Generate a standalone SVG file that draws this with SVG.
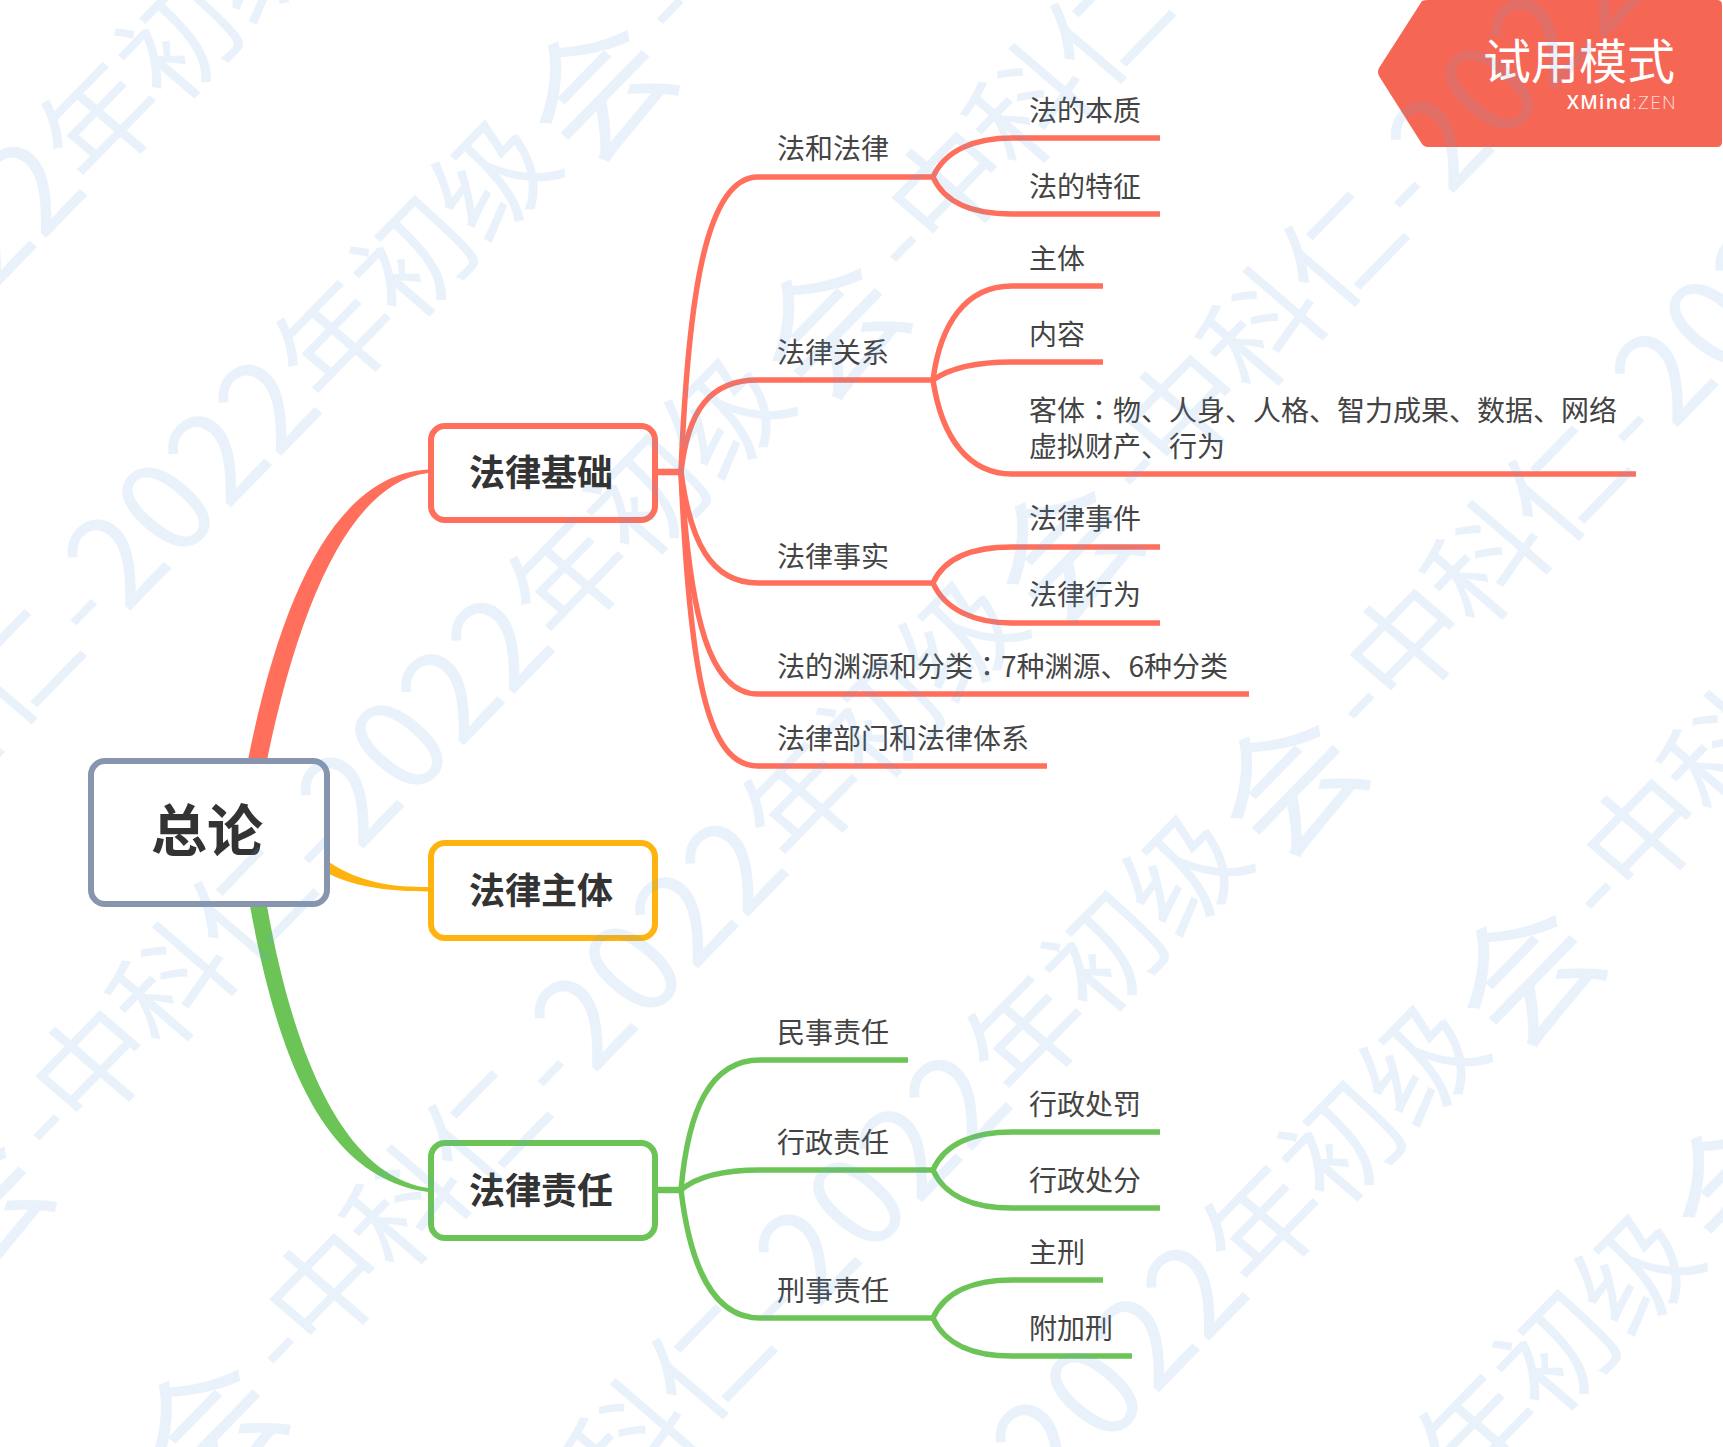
<svg xmlns="http://www.w3.org/2000/svg" width="1723" height="1447" viewBox="0 0 1723 1447">
<style>
text{font-family:"Noto Sans CJK SC","Noto Sans",sans-serif;fill:#3a3a3a}
.l{font-size:28px;fill:#444}
.t{font-size:36px;font-weight:700;text-anchor:middle;fill:#333}
.box{fill:#fff;stroke-width:6}
.line{fill:none;stroke-width:5.500}
.r{stroke:#ff6f5c}.y{stroke:#ffb30f}.g{stroke:#6cc457}
.stub{stroke-width:6.500}
#wm{font-size:115px;letter-spacing:-2px;fill:#5ea3e0}
#wm .d{font-size:128px;letter-spacing:1px}
#wm .a{letter-spacing:8px}
#wm .b{font-size:140px;letter-spacing:17px}
#wm .c{letter-spacing:6px}
#wm .h{letter-spacing:0}
.w{opacity:.13}
</style>
<defs>
<text id="wm"><tspan class="d">2022</tspan>年初<tspan class="a">级</tspan><tspan class="b" dy="22">会</tspan><tspan class="h" dy="-22">-</tspan>中科<tspan class="c">仁</tspan><tspan class="c">-</tspan><tspan class="d">2022</tspan>年初<tspan class="a">级</tspan><tspan class="b" dy="22">会</tspan><tspan class="h" dy="-22">-</tspan>中科<tspan class="c">仁</tspan><tspan class="c">-</tspan><tspan class="d">2022</tspan>年初<tspan class="a">级</tspan><tspan class="b" dy="22">会</tspan><tspan class="h" dy="-22">-</tspan>中科<tspan class="c">仁</tspan><tspan class="c">-</tspan></text>
</defs>
<rect width="1723" height="1447" fill="#fff"/>
<g id="badge">
<path d="M1422 1Q1425 0 1428 0H1717Q1722 0 1722 5V142Q1722 147 1717 147H1428Q1424 147 1422 144L1379 76Q1377 72 1379 68Z" fill="#f66655"/>
<text x="1483" y="79" font-size="48" style="fill:#fff">试用模式</text>
<text x="1677" y="109" font-size="19" text-anchor="end" style="fill:#fff;font-family:'Open Sans',sans-serif;font-weight:600;letter-spacing:1.3px">XMind<tspan font-weight="300" opacity=".75">:ZEN</tspan></text>
</g>
<g id="connectors">
<path d="M248 760C282 590 338 474 428 469.500V473C352 482 300 600 267 760Z" fill="#ff6f5c"/>
<path d="M329 862C362 884 395 887 428 887V891.500C390 891 358 888 329 874Z" fill="#ffb30f"/>
<path d="M250 906C280 1070 328 1178 428 1192V1188C348 1176 296 1068 267 906Z" fill="#6cc457"/>
<g class="line r">
<path class="stub" d="M658 472H681"/>
<path d="M681 472C688 300 705 177 758 177H933"/>
<path d="M681 472C688 410 710 380 758 380H933"/>
<path d="M681 472C690 540 710 583 758 583H933"/>
<path d="M681 472C690 620 710 694 758 694H1249"/>
<path d="M681 472C690 680 708 766 758 766H1047"/>
<path d="M933 177C945 150 975 138 1012 138H1160"/>
<path d="M933 177C945 204 975 214 1012 214H1160"/>
<path d="M933 380C940 325 965 286 1012 286H1103"/>
<path d="M933 380C950 368 975 362 1012 362H1103"/>
<path d="M933 380C942 440 970 474 1012 474H1636"/>
<path d="M933 583C945 556 975 547 1012 547H1160"/>
<path d="M933 583C945 610 975 623 1012 623H1160"/>
</g>
<g class="line g">
<path class="stub" d="M658 1190H681"/>
<path d="M681 1190C688 1110 710 1060 760 1060H908"/>
<path d="M681 1190C695 1178 720 1170 760 1170H933"/>
<path d="M681 1190C690 1265 712 1318 760 1318H933"/>
<path d="M933 1170C945 1143 975 1132 1012 1132H1160"/>
<path d="M933 1170C945 1197 975 1208 1012 1208H1160"/>
<path d="M933 1318C945 1291 975 1280 1012 1280H1103"/>
<path d="M933 1318C945 1345 975 1356 1012 1356H1132"/>
</g>
</g>
<g id="root"><rect class="box" x="91" y="761" width="236" height="143" rx="14" stroke="#8796ae"/><text class="t" x="207" y="851" style="font-size:56px">总论</text></g>
<g id="n-basis"><rect class="box r" x="431" y="426" width="224" height="94" rx="14"/><text class="t" x="541" y="486">法律基础</text></g>
<g id="n-subject"><rect class="box y" x="431" y="843" width="224" height="95" rx="14"/><text class="t" x="541" y="904">法律主体</text></g>
<g id="n-liability"><rect class="box g" x="431" y="1143" width="224" height="95" rx="14"/><text class="t" x="541" y="1204">法律责任</text></g>
<g id="n1"><text class="l" x="777" y="159">法和法律</text></g>
<g id="n1a"><text class="l" x="1029" y="121">法的本质</text></g>
<g id="n1b"><text class="l" x="1029" y="197">法的特征</text></g>
<g id="n2"><text class="l" x="777" y="363">法律关系</text></g>
<g id="n2a"><text class="l" x="1029" y="269">主体</text></g>
<g id="n2b"><text class="l" x="1029" y="345">内容</text></g>
<g id="n2c"><text class="l" x="1029" y="421">客体<tspan style="font-family:'Noto Sans CJK TC'">：</tspan>物、人身、人格、智力成果、数据、网络</text><text class="l" x="1029" y="457">虚拟财产、行为</text></g>
<g id="n3"><text class="l" x="777" y="567">法律事实</text></g>
<g id="n3a"><text class="l" x="1029" y="529">法律事件</text></g>
<g id="n3b"><text class="l" x="1029" y="605">法律行为</text></g>
<g id="n4"><text class="l" x="777" y="677">法的渊源和分类<tspan style="font-family:'Noto Sans CJK TC'">：</tspan>7种渊源、6种分类</text></g>
<g id="n5"><text class="l" x="777" y="749">法律部门和法律体系</text></g>
<g id="n6"><text class="l" x="777" y="1043">民事责任</text></g>
<g id="n7"><text class="l" x="777" y="1153">行政责任</text></g>
<g id="n7a"><text class="l" x="1029" y="1115">行政处罚</text></g>
<g id="n7b"><text class="l" x="1029" y="1191">行政处分</text></g>
<g id="n8"><text class="l" x="777" y="1301">刑事责任</text></g>
<g id="n8a"><text class="l" x="1029" y="1263">主刑</text></g>
<g id="n8b"><text class="l" x="1029" y="1339">附加刑</text></g>
<g id="watermark" class="w">
<use href="#wm" transform="matrix(.698 -.716 .759 .651 -965 1275)"/>
<use href="#wm" transform="matrix(.698 -.716 .759 .651 -730 1493)"/>
<use href="#wm" transform="matrix(.698 -.716 .759 .651 -497 1731)"/>
<use href="#wm" transform="matrix(.698 -.716 .759 .651 -263 1954)"/>
<use href="#wm" transform="matrix(.698 -.716 .759 .651 -39 2188)"/>
<use href="#wm" transform="matrix(.698 -.716 .759 .651 198 2378)"/>
<use href="#wm" transform="matrix(.698 -.716 .759 .651 413 2587)"/>
</g>
</svg>
